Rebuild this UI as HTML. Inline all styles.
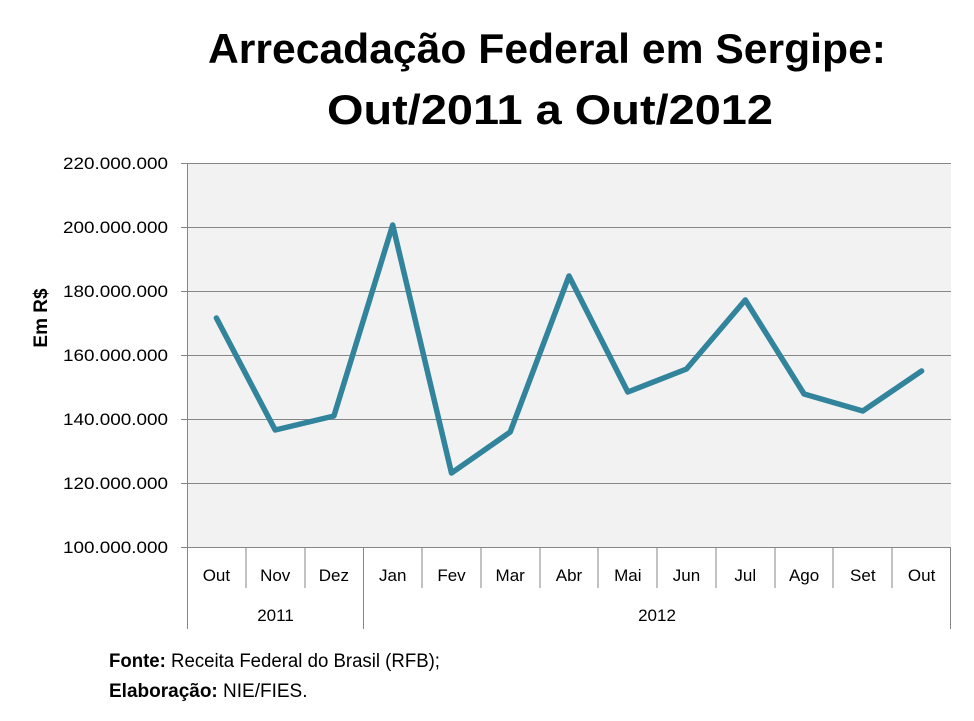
<!DOCTYPE html>
<html><head><meta charset="utf-8"><style>
html,body{margin:0;padding:0;background:#fff;}
svg{display:block;font-family:"Liberation Sans",sans-serif;}
</style></head><body>
<svg width="974" height="721" viewBox="0 0 974 721" xmlns="http://www.w3.org/2000/svg">
<text x="208" y="63" font-size="42" font-weight="bold" fill="#000" textLength="678" lengthAdjust="spacingAndGlyphs">Arrecadação Federal em Sergipe:</text>
<text x="327" y="124" font-size="42" font-weight="bold" fill="#000" textLength="446" lengthAdjust="spacingAndGlyphs">Out/2011 a Out/2012</text>
<rect x="187" y="163" width="764" height="384" fill="#f2f2f2"/>
<g stroke="#868686" stroke-width="1">
<line x1="181" y1="163.5" x2="951" y2="163.5"/>
<line x1="181" y1="227.5" x2="951" y2="227.5"/>
<line x1="181" y1="291.5" x2="951" y2="291.5"/>
<line x1="181" y1="355.5" x2="951" y2="355.5"/>
<line x1="181" y1="419.5" x2="951" y2="419.5"/>
<line x1="181" y1="483.5" x2="951" y2="483.5"/>
<line x1="181" y1="547.5" x2="951" y2="547.5"/>
<line x1="187.5" y1="163" x2="187.5" y2="629"/>
<line x1="363.5" y1="547" x2="363.5" y2="629"/>
<line x1="950.5" y1="547" x2="950.5" y2="629"/>
<line x1="246" y1="547" x2="246" y2="588"/>
<line x1="305" y1="547" x2="305" y2="588"/>
<line x1="422" y1="547" x2="422" y2="588"/>
<line x1="481" y1="547" x2="481" y2="588"/>
<line x1="540" y1="547" x2="540" y2="588"/>
<line x1="598" y1="547" x2="598" y2="588"/>
<line x1="657" y1="547" x2="657" y2="588"/>
<line x1="716" y1="547" x2="716" y2="588"/>
<line x1="775" y1="547" x2="775" y2="588"/>
<line x1="833" y1="547" x2="833" y2="588"/>
<line x1="892" y1="547" x2="892" y2="588"/>
</g>
<g font-size="17" fill="#000">
<text x="63" y="169" textLength="105" lengthAdjust="spacingAndGlyphs">220.000.000</text>
<text x="63" y="233" textLength="105" lengthAdjust="spacingAndGlyphs">200.000.000</text>
<text x="63" y="297" textLength="105" lengthAdjust="spacingAndGlyphs">180.000.000</text>
<text x="63" y="361" textLength="105" lengthAdjust="spacingAndGlyphs">160.000.000</text>
<text x="63" y="425" textLength="105" lengthAdjust="spacingAndGlyphs">140.000.000</text>
<text x="63" y="489" textLength="105" lengthAdjust="spacingAndGlyphs">120.000.000</text>
<text x="63" y="553" textLength="105" lengthAdjust="spacingAndGlyphs">100.000.000</text>
</g>
<text transform="translate(47,318) rotate(-90)" text-anchor="middle" font-size="19" font-weight="bold">Em R$</text>
<g font-size="17" fill="#000" text-anchor="middle">
<text x="216.4" y="581">Out</text><text x="275.2" y="581">Nov</text><text x="333.9" y="581">Dez</text>
<text x="392.7" y="581">Jan</text><text x="451.5" y="581">Fev</text><text x="510.2" y="581">Mar</text>
<text x="569" y="581">Abr</text><text x="627.8" y="581">Mai</text><text x="686.5" y="581">Jun</text>
<text x="745.3" y="581">Jul</text><text x="804.1" y="581">Ago</text><text x="862.8" y="581">Set</text>
<text x="921.6" y="581">Out</text>
<text x="275.5" y="621">2011</text><text x="657" y="621">2012</text>
</g>
<polyline fill="none" stroke="#31849b" stroke-width="5.5" stroke-linejoin="round" stroke-linecap="round"
points="216.4,318 275.2,430 333.9,416 392.7,225 451.5,473 510.2,432 569,276 627.8,392 686.5,369 745.3,300 804.1,394 862.8,411 921.6,371"/>
<text x="109" y="667" font-size="19" textLength="331" lengthAdjust="spacingAndGlyphs"><tspan font-weight="bold">Fonte:</tspan> Receita Federal do Brasil (RFB);</text>
<text x="109" y="697" font-size="19"><tspan font-weight="bold">Elaboração:</tspan>  NIE/FIES.</text>
</svg>
</body></html>
